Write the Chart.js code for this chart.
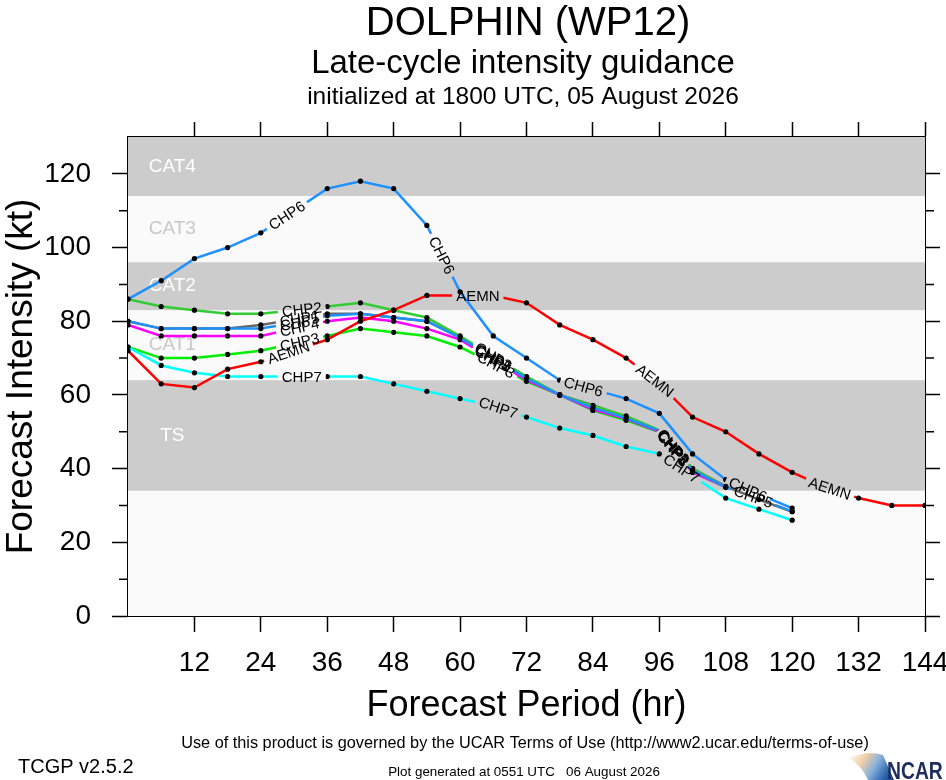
<!DOCTYPE html>
<html>
<head>
<meta charset="utf-8">
<script src="https://cdn.jsdelivr.net/npm/chart.js@4.4.1/dist/chart.umd.min.js"></script>
<style>
  html, body { margin: 0; padding: 0; background: #fff; }
  #wrap { width: 946px; height: 780px; }
</style>
</head>
<body>
<div id="wrap"><canvas id="c" width="946" height="780"></canvas></div>
<script>
// forecast hours and model intensities (kt)
const hours = [0, 6, 12, 18, 24, 30, 36, 42, 48, 54, 60, 66, 72, 78, 84, 90, 96, 102, 108, 114, 120, 126, 132, 138, 144];
const chp1 = [80, 78, 78, 78, 79, 80.5, 82, 82, 81, 80, 75.7, 70, 64.9, 60, 57.2, 54, 50.4, 40, 35.2, 31.6, 28.3];
const chp2 = [86, 84, 83, 82, 82, 83, 84, 85, 83, 81, 76, 70.5, 65, 60, 57, 54.3, 50.4, 40, 35];
const chp3 = [73, 70, 70, 71, 72, 74, 76, 78, 77, 76, 73, 68.5, 63.7, 60, 55.8, 53.1, 49.9, 39, 35];
const chp4 = [79, 76, 76, 76, 76, 78, 80, 81, 80, 78, 75, 69.5, 64, 60, 56, 53.5, 50, 39, 35];
const chp5 = [80, 78, 78, 78, 78, 79.5, 81.5, 82, 81, 80, 75.5, 70, 64.5, 60, 56.5, 53.7, 50.2, 39.5, 35, 31.8, 28.4];
const chp6 = [86, 91, 97, 100, 104, 110, 116, 118, 116, 106, 88, 76, 70, 64, 61.5, 59, 55, 44, 37, 33, 29.3];
const chp7 = [73, 68, 66, 65, 65, 65, 65, 65, 63, 61, 59, 57, 54, 51, 49, 46, 44, 38, 32, 29, 26];
const aemn = [72, 63, 62, 67, 69, 72, 75, 80, 83, 87, 87, 87, 85, 79, 75, 70, 63, 54, 50, 44, 39, 35, 32, 30, 30];

const seriesNames = ['CHP1', 'CHP2', 'CHP3', 'CHP4', 'CHP5', 'CHP6', 'CHP7', 'AEMN'];
const seriesValues = [chp1, chp2, chp3, chp4, chp5, chp6, chp7, aemn];
const seriesColors = ['#666666', '#33cc33', '#00ee00', '#ff00ff', '#1e90ff', '#1e90ff', '#00ffff', '#ff0000'];

// where the names sit along each line (forecast hour)
const labelHours = {
    CHP1: [31, 66, 98.5],
    CHP2: [31.4, 66, 98.5],
    CHP3: [31, 66.5, 98.5],
    CHP4: [31, 66, 98.5],
    CHP5: [31, 66, 98.5, 113],
    CHP6: [28.7, 56.7, 82.3, 112],
    CHP7: [31.4, 66.9, 100],
    AEMN: [29, 63.2, 95.2, 126.8]
};

// intensity categories
const bandEdges = [34, 64, 83, 96, 114, 130];
const bandNames = ['TS', 'CAT1', 'CAT2', 'CAT3', 'CAT4'];

const xTicks = [12, 24, 36, 48, 60, 72, 84, 96, 108, 120, 132, 144];
const yTicks = [0, 20, 40, 60, 80, 100, 120];
const yMinor = [10, 30, 50, 70, 90, 110];

const FONT = "'Liberation Sans', Arial, Helvetica, sans-serif";
const LABEL_FONT = "15px " + FONT;
Chart.defaults.font.family = FONT;
Chart.defaults.color = '#000';

function labelSpots(chart, idx) {
    const vals = seriesValues[idx];
    const xs = chart.scales.x, ys = chart.scales.y;
    return (labelHours[seriesNames[idx]] || []).map(h => {
        let i = 0;
        while (i < vals.length - 2 && hours[i + 1] <= h) i++;
        const t = (h - hours[i]) / (hours[i + 1] - hours[i]);
        const x1 = xs.getPixelForValue(hours[i]), y1 = ys.getPixelForValue(vals[i]);
        const x2 = xs.getPixelForValue(hours[i + 1]), y2 = ys.getPixelForValue(vals[i + 1]);
        return {x: x1 + (x2 - x1) * t, y: y1 + (y2 - y1) * t, a: Math.atan2(y2 - y1, x2 - x1)};
    });
}

const bandsPlugin = {
    id: 'bands',
    beforeDatasetsDraw(chart) {
        const {ctx, chartArea: a} = chart;
        const ys = chart.scales.y;
        ctx.save();
        ctx.fillStyle = '#fafafa';
        ctx.fillRect(a.left, a.top, a.right - a.left, a.bottom - a.top);
        ctx.font = "19px " + FONT;
        ctx.textAlign = 'center';
        ctx.textBaseline = 'middle';
        const lx = chart.scales.x.getPixelForValue(8);
        bandNames.forEach((name, i) => {
            const y1 = ys.getPixelForValue(bandEdges[i]);
            const y2 = ys.getPixelForValue(bandEdges[i + 1]);
            const gray = i % 2 === 0;
            if (gray) {
                ctx.fillStyle = '#cccccc';
                ctx.fillRect(a.left, y2, a.right - a.left, y1 - y2);
            }
            ctx.fillStyle = gray ? '#ffffff' : '#c8c8c8';
            ctx.fillText(name, lx, (y1 + y2) / 2);
        });
        ctx.restore();
    }
};

// break each line where its name is written
const gapPlugin = {
    id: 'gaps',
    beforeDatasetDraw(chart, args) {
        const c = chart.ctx;
        c.save();
        c.beginPath();
        c.rect(0, 0, chart.width, chart.height);
        c.font = LABEL_FONT;
        const w = c.measureText(seriesNames[args.index]).width / 2 + 4, hh = 8;
        labelSpots(chart, args.index).forEach(p => {
            const cs = Math.cos(p.a), sn = Math.sin(p.a);
            const pts = [[-w, -hh], [w, -hh], [w, hh], [-w, hh]]
                .map(([u, v]) => [p.x + u * cs - v * sn, p.y + u * sn + v * cs]);
            c.moveTo(pts[0][0], pts[0][1]);
            pts.slice(1).forEach(q => c.lineTo(q[0], q[1]));
            c.closePath();
        });
        c.clip('evenodd');
    },
    afterDatasetDraw(chart) {
        chart.ctx.restore();
    },
    afterDatasetsDraw(chart) {
        const c = chart.ctx;
        c.save();
        c.font = LABEL_FONT;
        c.fillStyle = '#000';
        c.textAlign = 'center';
        c.textBaseline = 'middle';
        seriesNames.forEach((name, idx) => {
            labelSpots(chart, idx).forEach(p => {
                c.save();
                c.translate(p.x, p.y);
                c.rotate(p.a);
                c.fillText(name, 0, 1);
                c.restore();
            });
        });
        c.restore();
    }
};

const decorPlugin = {
    id: 'decor',
    afterDraw(chart) {
        const {ctx, chartArea: a} = chart;
        const ys = chart.scales.y;
        ctx.save();
        // minor ticks
        ctx.strokeStyle = '#000';
        ctx.lineWidth = 1.5;
        yMinor.forEach(v => {
            const py = ys.getPixelForValue(v);
            ctx.beginPath();
            ctx.moveTo(a.left - 9, py); ctx.lineTo(a.left, py);
            ctx.moveTo(a.right, py); ctx.lineTo(a.right + 9, py);
            ctx.stroke();
        });
        // titles
        ctx.fillStyle = '#000';
        ctx.textAlign = 'center';
        ctx.textBaseline = 'alphabetic';
        ctx.font = "40px " + FONT;
        ctx.fillText('DOLPHIN (WP12)', 528, 35);
        ctx.font = "33px " + FONT;
        ctx.fillText('Late-cycle intensity guidance', 523, 73);
        ctx.font = "24.5px " + FONT;
        ctx.fillText('initialized at 1800 UTC, 05 August 2026', 523, 104);
        // footer
        ctx.font = "16.3px " + FONT;
        ctx.fillText('Use of this product is governed by the UCAR Terms of Use (http://www2.ucar.edu/terms-of-use)', 525, 748);
        ctx.font = "13.4px " + FONT;
        ctx.fillText('Plot generated at 0551 UTC   06 August 2026', 524, 776);
        ctx.textAlign = 'left';
        ctx.font = "20px " + FONT;
        ctx.fillText('TCGP v2.5.2', 18, 773);
        // NCAR mark
        const g = ctx.createLinearGradient(850, 752, 894, 780);
        g.addColorStop(0, '#ffffff');
        g.addColorStop(0.3, '#f0cfa6');
        g.addColorStop(0.55, '#86b0dc');
        g.addColorStop(0.8, '#2f66b0');
        g.addColorStop(1, '#173f8a');
        ctx.fillStyle = g;
        ctx.beginPath();
        ctx.moveTo(849, 758);
        ctx.quadraticCurveTo(868, 750, 883, 755);
        ctx.lineTo(894, 780);
        ctx.lineTo(868, 780);
        ctx.quadraticCurveTo(862, 766, 849, 758);
        ctx.fill();
        ctx.fillStyle = '#1e2d5c';
        ctx.font = "bold 23px " + FONT;
        ctx.translate(887, 779);
        ctx.scale(0.84, 1);
        ctx.fillText('NCAR', 0, 0);
        ctx.restore();
    }
};

const datasets = seriesNames.map((name, i) => ({
    label: name,
    data: seriesValues[i].map((v, j) => ({x: hours[j], y: v})),
    borderColor: seriesColors[i],
    backgroundColor: '#000',
    borderWidth: 2.5,
    pointRadius: 2.6,
    pointBorderWidth: 0,
    pointBackgroundColor: '#000',
    tension: 0,
    fill: false,
    order: seriesNames.length - i
}));

const frame = {color: '#000', width: 2};
// keep the plot frame where the axes put it, not pushed in by edge labels
const noPad = s => { s.paddingLeft = 0; s.paddingRight = 0; s.paddingTop = 0; s.paddingBottom = 0; };

new Chart(document.getElementById('c').getContext('2d'), {
    type: 'line',
    data: {datasets},
    plugins: [bandsPlugin, gapPlugin, decorPlugin],
    options: {
        responsive: false,
        animation: false,
        devicePixelRatio: 1,
        layout: {padding: 0},
        plugins: {legend: {display: false}, tooltip: {enabled: false}},
        scales: {
            x: {
                type: 'linear', position: 'bottom', min: 0, max: 144,
                afterBuildTicks: s => { s.ticks = xTicks.map(v => ({value: v})); },
                ticks: {font: {size: 28}, color: '#000', padding: 14, maxRotation: 0, autoSkip: false},
                grid: {drawOnChartArea: false, tickLength: 16, tickWidth: 1.5, tickColor: '#000'},
                border: frame,
                title: {display: true, text: 'Forecast Period (hr)', font: {size: 36}, color: '#000', padding: {top: 0, bottom: 52}},
                afterFit: s => { s.height = 164; noPad(s); }
            },
            xTop: {
                type: 'linear', position: 'top', min: 0, max: 144,
                afterBuildTicks: s => { s.ticks = xTicks.map(v => ({value: v})); },
                ticks: {display: false},
                grid: {drawOnChartArea: false, tickLength: 15, tickWidth: 1.5, tickColor: '#000'},
                border: frame,
                afterFit: s => { s.height = 137; noPad(s); }
            },
            y: {
                type: 'linear', position: 'left', min: 0, max: 130,
                afterBuildTicks: s => { s.ticks = yTicks.map(v => ({value: v})); },
                ticks: {font: {size: 28}, color: '#000', padding: 21},
                grid: {drawOnChartArea: false, tickLength: 16, tickWidth: 1.5, tickColor: '#000'},
                border: frame,
                title: {display: true, text: 'Forecast Intensity (kt)', font: {size: 37}, color: '#000', padding: {top: 0, bottom: 0}},
                afterFit: s => { s.width = 128; noPad(s); }
            },
            yRight: {
                type: 'linear', position: 'right', min: 0, max: 130,
                afterBuildTicks: s => { s.ticks = yTicks.map(v => ({value: v})); },
                ticks: {display: false},
                grid: {drawOnChartArea: false, tickLength: 15, tickWidth: 1.5, tickColor: '#000'},
                border: frame,
                afterFit: s => { s.width = 21; noPad(s); }
            }
        }
    }
});
</script>
</body>
</html>
